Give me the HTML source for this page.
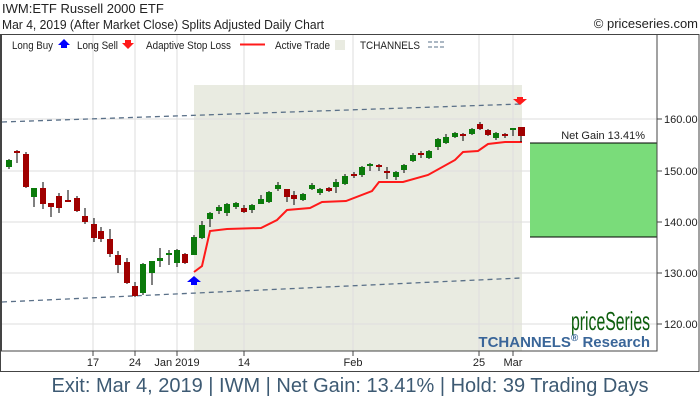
<!DOCTYPE html>
<html><head><meta charset="utf-8"><style>
body{margin:0;background:#fff;width:700px;height:400px;overflow:hidden;font-family:"Liberation Sans",sans-serif}
svg text{font-family:"Liberation Sans",sans-serif}
</style></head><body>
<svg width="700" height="400" xmlns="http://www.w3.org/2000/svg">
<rect x="0" y="0" width="700" height="400" fill="#fff"/>
<text x="2" y="13" font-size="13" fill="#222">IWM:ETF Russell 2000 ETF</text>
<text x="2" y="29" font-size="13" fill="#222" textLength="322" lengthAdjust="spacingAndGlyphs">Mar 4, 2019 (After Market Close)  Splits Adjusted Daily Chart</text>
<text x="698" y="28" font-size="13" fill="#222" text-anchor="end">© priceseries.com</text>
<rect x="194" y="85" width="328" height="266" fill="#e9ebe1"/>
<g stroke="#dedede" stroke-width="1">
<line x1="2" y1="119" x2="657" y2="119"/><line x1="2" y1="171" x2="657" y2="171"/><line x1="2" y1="222" x2="657" y2="222"/><line x1="2" y1="273" x2="657" y2="273"/><line x1="2" y1="324" x2="657" y2="324"/>
<line x1="93" y1="34" x2="93" y2="351"/><line x1="135" y1="34" x2="135" y2="351"/><line x1="177" y1="34" x2="177" y2="351"/><line x1="244" y1="34" x2="244" y2="351"/><line x1="353" y1="34" x2="353" y2="351"/><line x1="479" y1="34" x2="479" y2="351"/><line x1="513" y1="34" x2="513" y2="351"/>
</g>
<rect x="530" y="143" width="127" height="94" fill="#7adc7a"/>
<line x1="530" y1="143" x2="657" y2="143" stroke="#000"/>
<line x1="530" y1="237" x2="657" y2="237" stroke="#000"/>
<text x="645" y="139" font-size="11" fill="#222" text-anchor="end">Net Gain 13.41%</text>
<g stroke="#5a7088" stroke-width="1.3" stroke-dasharray="5,4" fill="none">
<line x1="2" y1="122" x2="521" y2="104"/>
<line x1="2" y1="302" x2="521" y2="278"/>
</g>
<polyline fill="none" stroke="#ff1a1a" stroke-width="2" points="194,272 202,266 210,231 227,229 261,228 277,220 287,210 310,208 322,202 346,201 372,191 379,182 403,182 428,175 455,160 463,152 478,151 488,144 505,142 522,142"/>
<g stroke="#000" stroke-width="1">
<line x1="9" y1="159" x2="9" y2="169"/><line x1="17" y1="150" x2="17" y2="163"/><line x1="26" y1="152" x2="26" y2="188"/><line x1="34" y1="188" x2="34" y2="207"/><line x1="43" y1="182" x2="43" y2="209"/><line x1="51" y1="203" x2="51" y2="217"/><line x1="59" y1="193" x2="59" y2="213"/><line x1="68" y1="190" x2="68" y2="201"/><line x1="77" y1="196" x2="77" y2="212"/><line x1="85" y1="208" x2="85" y2="224"/><line x1="94" y1="218" x2="94" y2="242"/><line x1="101" y1="227" x2="101" y2="242"/><line x1="110" y1="229" x2="110" y2="257"/><line x1="118" y1="251" x2="118" y2="273"/><line x1="127" y1="258" x2="127" y2="284"/><line x1="135" y1="282" x2="135" y2="297"/><line x1="143" y1="263" x2="143" y2="295"/><line x1="152" y1="261" x2="152" y2="285"/><line x1="160" y1="248" x2="160" y2="267"/><line x1="169" y1="250" x2="169" y2="265"/><line x1="177" y1="249" x2="177" y2="267"/><line x1="185" y1="253" x2="185" y2="264"/><line x1="194" y1="235" x2="194" y2="255"/><line x1="202" y1="221" x2="202" y2="239"/><line x1="210" y1="212" x2="210" y2="227"/><line x1="219" y1="205" x2="219" y2="214"/><line x1="227" y1="203" x2="227" y2="216"/><line x1="236" y1="202" x2="236" y2="209"/><line x1="244" y1="205" x2="244" y2="213"/><line x1="252" y1="204" x2="252" y2="213"/><line x1="261" y1="195" x2="261" y2="204"/><line x1="269" y1="191" x2="269" y2="203"/><line x1="278" y1="182" x2="278" y2="191"/><line x1="287" y1="189" x2="287" y2="202"/><line x1="294" y1="191" x2="294" y2="205"/><line x1="303" y1="193" x2="303" y2="201"/><line x1="312" y1="183" x2="312" y2="190"/><line x1="320" y1="188" x2="320" y2="195"/><line x1="329" y1="187" x2="329" y2="192"/><line x1="336" y1="179" x2="336" y2="193"/><line x1="345" y1="174" x2="345" y2="185"/><line x1="354" y1="172" x2="354" y2="178"/><line x1="362" y1="166" x2="362" y2="177"/><line x1="370" y1="163" x2="370" y2="171"/><line x1="379" y1="164" x2="379" y2="171"/><line x1="387" y1="167" x2="387" y2="179"/><line x1="396" y1="171" x2="396" y2="180"/><line x1="404" y1="164" x2="404" y2="173"/><line x1="413" y1="153" x2="413" y2="162"/><line x1="421" y1="151" x2="421" y2="158"/><line x1="429" y1="150" x2="429" y2="159"/><line x1="438" y1="138" x2="438" y2="150"/><line x1="446" y1="134" x2="446" y2="144"/><line x1="455" y1="132" x2="455" y2="138"/><line x1="463" y1="133" x2="463" y2="141"/><line x1="472" y1="128" x2="472" y2="135"/><line x1="480" y1="122" x2="480" y2="130"/><line x1="488" y1="129" x2="488" y2="136"/><line x1="496" y1="132" x2="496" y2="140"/><line x1="505" y1="133" x2="505" y2="138"/><line x1="513" y1="128" x2="513" y2="136"/><line x1="521" y1="127" x2="521" y2="142"/>
</g>
<g fill="#0b7a0b">
<rect x="6" y="160" width="6" height="7"/><rect x="31" y="188" width="6" height="9"/><rect x="140" y="264" width="6" height="29"/><rect x="149" y="261" width="6" height="12"/><rect x="157" y="258" width="6" height="3"/><rect x="166" y="253" width="6" height="2"/><rect x="174" y="250" width="6" height="13"/><rect x="191" y="237" width="6" height="18"/><rect x="199" y="225" width="6" height="13"/><rect x="207" y="213" width="6" height="6"/><rect x="216" y="207" width="6" height="4"/><rect x="224" y="204" width="6" height="9"/><rect x="233" y="203" width="6" height="4"/><rect x="249" y="205" width="6" height="5"/><rect x="258" y="199" width="6" height="5"/><rect x="266" y="192" width="6" height="10"/><rect x="275" y="185" width="6" height="4"/><rect x="300" y="194" width="6" height="6"/><rect x="309" y="185" width="6" height="4"/><rect x="317" y="189" width="6" height="4"/><rect x="333" y="182" width="6" height="5"/><rect x="342" y="176" width="6" height="8"/><rect x="359" y="167" width="6" height="8"/><rect x="367" y="164" width="6" height="2"/><rect x="393" y="172" width="6" height="5"/><rect x="401" y="165" width="6" height="5"/><rect x="410" y="155" width="6" height="6"/><rect x="426" y="151" width="6" height="7"/><rect x="435" y="139" width="6" height="8"/><rect x="443" y="137" width="6" height="6"/><rect x="452" y="133" width="6" height="4"/><rect x="469" y="129" width="6" height="5"/><rect x="493" y="133" width="6" height="5"/><rect x="510" y="128" width="6" height="2"/>
</g>
<g fill="#a00000">
<rect x="14" y="151" width="6" height="2"/><rect x="23" y="154" width="6" height="33"/><rect x="40" y="188" width="6" height="16"/><rect x="48" y="203" width="6" height="4"/><rect x="56" y="196" width="6" height="12"/><rect x="65" y="200" width="6" height="2"/><rect x="74" y="198" width="6" height="13"/><rect x="82" y="216" width="6" height="6"/><rect x="91" y="224" width="6" height="14"/><rect x="98" y="231" width="6" height="8"/><rect x="107" y="239" width="6" height="15"/><rect x="115" y="255" width="6" height="10"/><rect x="124" y="262" width="6" height="21"/><rect x="132" y="286" width="6" height="10"/><rect x="182" y="254" width="6" height="9"/><rect x="241" y="208" width="6" height="4"/><rect x="284" y="189" width="6" height="8"/><rect x="291" y="195" width="6" height="4"/><rect x="326" y="188" width="6" height="3"/><rect x="351" y="174" width="6" height="2"/><rect x="376" y="165" width="6" height="2"/><rect x="384" y="171" width="6" height="2"/><rect x="418" y="153" width="6" height="2"/><rect x="460" y="134" width="6" height="2"/><rect x="477" y="124" width="6" height="5"/><rect x="485" y="130" width="6" height="5"/><rect x="502" y="134" width="6" height="2"/><rect x="518" y="127" width="7" height="9"/>
</g>
<path d="M194,276 L201,282 L197,282 L197,285 L191,285 L191,282 L187,282 Z" fill="#0000ff"/>
<path d="M520,105 L527,99 L523,99 L523,97 L517,97 L517,99 L513,99 Z" fill="#ff1a1a"/>
<rect x="1.5" y="34.5" width="655.5" height="316.5" fill="none" stroke="#444"/>
<rect x="0.5" y="34.5" width="698.5" height="337" fill="none" stroke="#444"/>
<g stroke="#444"><line x1="657" y1="119" x2="662" y2="119"/><line x1="657" y1="171" x2="662" y2="171"/><line x1="657" y1="222" x2="662" y2="222"/><line x1="657" y1="273" x2="662" y2="273"/><line x1="657" y1="324" x2="662" y2="324"/>
<line x1="93" y1="351" x2="93" y2="356"/><line x1="135" y1="351" x2="135" y2="356"/><line x1="177" y1="351" x2="177" y2="356"/><line x1="244" y1="351" x2="244" y2="356"/><line x1="353" y1="351" x2="353" y2="356"/><line x1="479" y1="351" x2="479" y2="356"/><line x1="513" y1="351" x2="513" y2="356"/></g>
<g font-size="11" fill="#222">
<text x="664" y="123">160.00</text><text x="664" y="175">150.00</text><text x="664" y="226">140.00</text><text x="664" y="277">130.00</text><text x="664" y="328">120.00</text>
</g>
<g font-size="11" fill="#222" text-anchor="middle">
<text x="93" y="366">17</text><text x="135" y="366">24</text><text x="177" y="366">Jan 2019</text><text x="244" y="366">14</text><text x="353" y="366">Feb</text><text x="479" y="366">25</text><text x="513" y="366">Mar</text>
</g>
<g font-size="11" fill="#222">
<text x="12" y="49" textLength="41" lengthAdjust="spacingAndGlyphs">Long Buy</text>
<path d="M64,39 L70,45 L67,45 L67,48 L61,48 L61,45 L58,45 Z" fill="#0000ff"/>
<text x="77" y="49" textLength="41" lengthAdjust="spacingAndGlyphs">Long Sell</text>
<path d="M128,49 L134,43 L131,43 L131,40 L125,40 L125,43 L122,43 Z" fill="#ff1a1a"/>
<text x="146" y="49" textLength="85" lengthAdjust="spacingAndGlyphs">Adaptive Stop Loss</text>
<line x1="240" y1="44.5" x2="265" y2="44.5" stroke="#ff1a1a" stroke-width="2"/>
<text x="275" y="49" textLength="55" lengthAdjust="spacingAndGlyphs">Active Trade</text>
<rect x="335" y="40" width="10" height="10" fill="#e9ebe1"/>
<text x="360" y="49" textLength="60" lengthAdjust="spacingAndGlyphs">TCHANNELS</text>
<line x1="428" y1="42" x2="446" y2="42" stroke="#5a7088" stroke-dasharray="4,2"/>
<line x1="428" y1="47" x2="446" y2="47" stroke="#5a7088" stroke-dasharray="4,2"/>
</g>
<text x="571" y="330" font-size="26" fill="#0d5e0d" textLength="79" lengthAdjust="spacingAndGlyphs">priceSeries</text>
<text x="650" y="347" font-size="15" font-weight="bold" fill="#3a6699" text-anchor="end">TCHANNELS<tspan font-size="10" dy="-6">®</tspan><tspan dy="6"> Research</tspan></text>
<text x="350" y="392" font-size="20" fill="#3d5a73" text-anchor="middle">Exit: Mar 4, 2019 | IWM | Net Gain: 13.41% | Hold: 39 Trading Days</text>
</svg>
</body></html>
